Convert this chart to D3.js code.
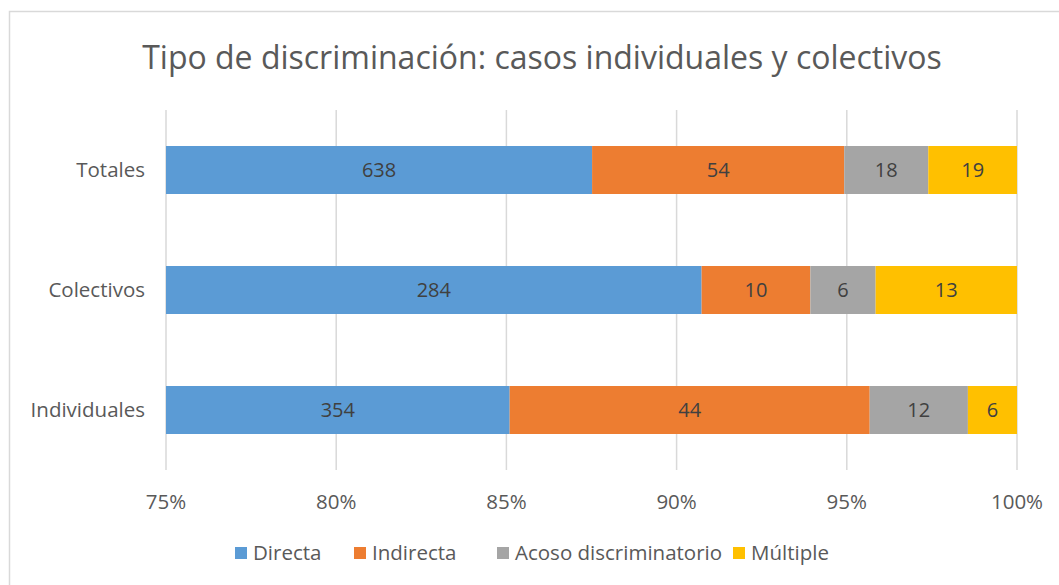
<!DOCTYPE html>
<html>
<head>
<meta charset="utf-8">
<script src="https://cdn.jsdelivr.net/npm/d3@7"></script>
<style>
  body { margin: 0; background: #fff; }
  text { font-family: "Open Sans", "Noto Sans", sans-serif; }
</style>
</head>
<body>
<div id="chart"></div>
<script>
// Data
const categories = ["Totales", "Colectivos", "Individuales"];
const seriesNames = ["Directa", "Indirecta", "Acoso discriminatorio", "Múltiple"];
const seriesColors = ["#5b9bd5", "#ed7d31", "#a5a5a5", "#ffc000"];
const directa = [638, 284, 354];
const indirecta = [54, 10, 44];
const acoso = [18, 6, 12];
const multiple = [19, 13, 6];
const tickValues = [0.75, 0.80, 0.85, 0.90, 0.95, 1.00];

const width = 1059, height = 585;

const svg = d3.select("#chart").append("svg")
  .attr("width", width)
  .attr("height", height);

// chart frame
svg.append("rect")
  .attr("x", 9.5).attr("y", 11.5)
  .attr("width", 1080).attr("height", 620)
  .attr("fill", "#fff")
  .attr("stroke", "#d9d9d9").attr("stroke-width", 1.5);

// title
svg.append("text")
  .attr("x", 542).attr("y", 69)
  .attr("text-anchor", "middle")
  .attr("font-size", 32)
  .attr("fill", "#595959")
  .text("Tipo de discriminación: casos individuales y colectivos");

// build table of rows with percentage stacks
const table = categories.map((c, i) => ({
  cat: c,
  values: [directa[i], indirecta[i], acoso[i], multiple[i]]
}));

const x = d3.scaleLinear().domain([0.75, 1]).range([166, 1017]);
const y = d3.scaleBand().domain(categories).range([110, 470]).paddingInner(0.6).paddingOuter(0.3);

// gridlines
svg.append("g")
  .selectAll("line")
  .data(tickValues)
  .join("line")
  .attr("x1", d => x(d)).attr("x2", d => x(d))
  .attr("y1", 110).attr("y2", 470)
  .attr("stroke", "#d9d9d9").attr("stroke-width", 1.5);

// bars
const segs = [];
table.forEach(row => {
  const total = d3.sum(row.values);
  let acc = 0;
  row.values.forEach((v, k) => {
    const x0 = acc / total;
    acc += v;
    segs.push({ cat: row.cat, k, v, x0: Math.max(x0, 0.75), x1: acc / total });
  });
});

svg.append("g")
  .selectAll("rect")
  .data(segs.filter(d => d.x1 > 0.75))
  .join("rect")
  .attr("x", d => x(d.x0))
  .attr("y", d => y(d.cat))
  .attr("width", d => x(d.x1) - x(d.x0))
  .attr("height", y.bandwidth())
  .attr("fill", d => seriesColors[d.k]);

svg.append("g")
  .selectAll("text")
  .data(segs.filter(d => d.x1 > 0.75))
  .join("text")
  .attr("x", d => (x(d.x0) + x(d.x1)) / 2)
  .attr("y", d => y(d.cat) + y.bandwidth() / 2)
  .attr("dy", "0.35em")
  .attr("text-anchor", "middle")
  .attr("font-size", 20)
  .attr("fill", "#404040")
  .text(d => d.v);

// category labels
svg.append("g")
  .selectAll("text")
  .data(categories)
  .join("text")
  .attr("x", 145)
  .attr("y", d => y(d) + y.bandwidth() / 2)
  .attr("dy", "0.35em")
  .attr("text-anchor", "end")
  .attr("font-size", 20.5)
  .attr("fill", "#595959")
  .text(d => d);

// x tick labels
svg.append("g")
  .selectAll("text")
  .data(tickValues)
  .join("text")
  .attr("x", d => x(d))
  .attr("y", 502)
  .attr("dy", "0.35em")
  .attr("text-anchor", "middle")
  .attr("font-size", 20.5)
  .attr("fill", "#595959")
  .text(d => d3.format(".0%")(d));

// legend
const legendX = [235, 354, 497, 733];
const legend = svg.append("g")
  .selectAll("g")
  .data(seriesNames)
  .join("g")
  .attr("transform", (d, i) => `translate(${legendX[i]},553)`);

legend.append("rect")
  .attr("x", 0).attr("y", -6)
  .attr("width", 12).attr("height", 12)
  .attr("fill", (d, i) => seriesColors[i]);

legend.append("text")
  .attr("x", 18)
  .attr("dy", "0.35em")
  .attr("font-size", 20.5)
  .attr("fill", "#595959")
  .text(d => d);
</script>
</body>
</html>
